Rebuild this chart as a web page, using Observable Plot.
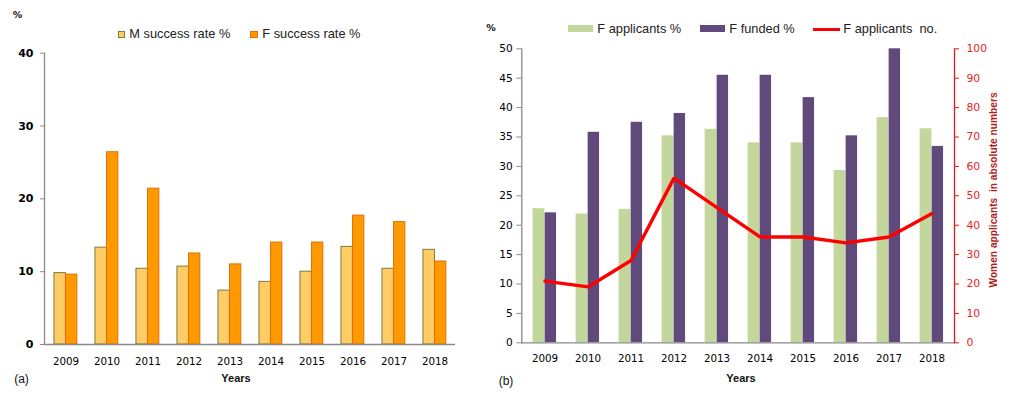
<!DOCTYPE html>
<html><head><meta charset="utf-8">
<script src="https://cdn.jsdelivr.net/npm/d3@7"></script>
<script src="https://cdn.jsdelivr.net/npm/@observablehq/plot@0.6"></script>
<style>
body{margin:0;background:#fff;}
#wrap{position:relative;width:1013px;height:398px;overflow:hidden;background:#fff;}
.abs{position:absolute;white-space:pre;line-height:1;}
.sw{position:absolute;box-sizing:border-box;}
</style></head><body><div id="wrap"></div>
<script>
// ---------- data ----------
const years = ["2009","2010","2011","2012","2013","2014","2015","2016","2017","2018"];
// panel (a)
const mSuccessRate = [9.8, 13.3, 10.4, 10.7, 7.4, 8.6, 10.0, 13.4, 10.4, 13.0];
const fSuccessRate = [9.6, 26.4, 21.4, 12.5, 11.0, 14.0, 14.0, 17.7, 16.8, 11.4];
// panel (b)
const fApplicantsPct = [22.8, 21.9, 22.7, 35.2, 36.3, 34.0, 34.0, 29.3, 38.3, 36.4];
const fFundedPct = [22.1, 35.8, 37.5, 39.0, 45.5, 45.5, 41.7, 35.2, 50.0, 33.4];
const fApplicantsNo = [21, 19, 28, 56, 46, 36, 36, 34, 36, 44];
// ticks
const ticksA = [0, 10, 20, 30, 40];
const ticksB = [0, 5, 10, 15, 20, 25, 30, 35, 40, 45, 50];
const ticksB2 = [0, 10, 20, 30, 40, 50, 60, 70, 80, 90, 100];

const tableA = years.map((year, i) => ({year, m: mSuccessRate[i], f: fSuccessRate[i]}));
const tableB = years.map((year, i) => ({year, app: fApplicantsPct[i], fund: fFundedPct[i], no: fApplicantsNo[i]}));

const wrap = document.getElementById("wrap");
const TICKFONT = "'DejaVu Sans', Verdana, sans-serif";
const LEGFONT = "'Liberation Sans', Arial, sans-serif";

// ---------- panel (a) ----------
const bandA = (455 - 44) / years.length;
const plotA = Plot.plot({
  width: 490, height: 398,
  marginLeft: 44, marginRight: 35, marginTop: 52.7, marginBottom: 54,
  style: {fontFamily: TICKFONT, fontSize: "10.3px", color: "#000", background: "transparent", overflow: "visible"},
  x: {type: "band", domain: years, padding: 0, axis: null},
  y: {domain: [0, 40], axis: null},
  marks: [
    Plot.barY(tableA, {x: "year", y: "m", fill: "#ffcc66", stroke: "#7a7a42", strokeWidth: 1,
      insetLeft: bandA / 2 - 11.6, insetRight: bandA / 2}),
    Plot.barY(tableA, {x: "year", y: "f", fill: "#ff9900", stroke: "#e0700a", strokeWidth: 1,
      insetLeft: bandA / 2, insetRight: bandA / 2 - 11.4}),
    Plot.ruleY([0], {stroke: "#8a8a8a", strokeWidth: 1.3}),
    Plot.frame({anchor: "left", stroke: "#8a8a8a", strokeWidth: 1.3}),
    Plot.axisY({ticks: ticksA, tickSize: 4, tickPadding: 7, stroke: "#8a8a8a", fill: "#000",
      fontWeight: "bold", fontSize: "11px", label: null}),
    Plot.axisX({tickSize: 0, tickPadding: 13, fill: "#000", label: null})
  ]
});
const divA = document.createElement("div");
divA.style.cssText = "position:absolute;left:0;top:0;";
divA.appendChild(plotA);
wrap.appendChild(divA);

// ---------- panel (b) ----------
const y2 = d => d / 2; // right axis (0-100) mapped onto the left domain (0-50)
const bandB = (954 - 521.3) / years.length;
const plotB = Plot.plot({
  width: 523, height: 398,
  marginLeft: 31.3, marginRight: 59, marginTop: 48.3, marginBottom: 55.7,
  style: {fontFamily: TICKFONT, fontSize: "10.3px", color: "#000", background: "transparent", overflow: "visible"},
  x: {type: "band", domain: years, padding: 0, axis: null},
  y: {domain: [0, 50], axis: null},
  marks: [
    Plot.barY(tableB, {x: "year", y: "app", fill: "#c3d69b",
      insetLeft: bandB / 2 - 12, insetRight: bandB / 2}),
    Plot.barY(tableB, {x: "year", y: "fund", fill: "#604a7b",
      insetLeft: bandB / 2, insetRight: bandB / 2 - 11.7}),
    Plot.ruleY([0], {stroke: "#8a8a8a", strokeWidth: 1.3}),
    Plot.frame({anchor: "left", stroke: "#8a8a8a", strokeWidth: 1.3}),
    Plot.frame({anchor: "right", stroke: "#e01818", strokeWidth: 1.3}),
    Plot.lineY(tableB, {x: "year", y: d => y2(d.no), stroke: "#ff0000", strokeWidth: 3.4, strokeLinejoin: "miter"}),
    Plot.axisY({ticks: ticksB, tickSize: 5, tickPadding: 4, stroke: "#8a8a8a", fill: "#000",
      fontSize: "10.6px", label: null}),
    Plot.axisY(ticksB2, {y: y2, anchor: "right", tickFormat: d => String(d), tickSize: 4, tickPadding: 8,
      stroke: "#e01818", fill: "#e8251f", fontSize: "10.8px", label: null}),
    Plot.axisX({tickSize: 0, tickPadding: 12, fill: "#000", label: null})
  ]
});
const divB = document.createElement("div");
divB.style.cssText = "position:absolute;left:490px;top:0;";
divB.appendChild(plotB);
wrap.appendChild(divB);

// ---------- texts & legends ----------
function txt(s, x, y, css, anchor) {
  const d = document.createElement("div");
  d.className = "abs";
  d.textContent = s;
  d.style.cssText += css;
  d.style.left = x + "px";
  d.style.top = y + "px";
  d.style.transform = anchor === "left" ? "translate(0,-50%)" : "translate(-50%,-50%)";
  wrap.appendChild(d);
  return d;
}
function sw(x, y, w, h, css) {
  const d = document.createElement("div");
  d.className = "sw";
  d.style.cssText += `left:${x}px;top:${y}px;width:${w}px;height:${h}px;` + css;
  wrap.appendChild(d);
}
const legCss = `font-family:${LEGFONT};font-size:12.8px;color:#222;`;
const boldCss = `font-family:${LEGFONT};font-size:11px;font-weight:bold;color:#111;`;
const pctCss = `font-family:${TICKFONT};font-size:9.5px;font-weight:bold;color:#111;`;

// panel (a)
txt("%", 17.5, 15, pctCss);
sw(117.5, 30.5, 7.6, 7.6, "background:#ffcc66;border:1px solid #7a7a42;");
txt("M success rate %", 129.3, 34, legCss, "left");
sw(250, 30.5, 7.6, 7.6, "background:#ff9900;border:1px solid #e0700a;");
txt("F success rate %", 262.3, 34, legCss, "left");
txt("Years", 236, 378, boldCss);
txt("(a)", 21.5, 379, `font-family:${LEGFONT};font-size:12px;color:#111;`);

// panel (b)
txt("%", 491, 28, pctCss);
sw(567.7, 25.3, 25.6, 7, "background:#c3d69b;");
txt("F applicants %", 597.3, 29, legCss, "left");
sw(700, 25.3, 25, 7, "background:#604a7b;");
txt("F funded %", 729.3, 29, legCss, "left");
sw(813.3, 27.6, 26.7, 3, "background:#ff0000;");
txt("F applicants  no.", 843.3, 29, legCss, "left");
txt("Years", 741, 378, boldCss);
txt("(b)", 506, 381, `font-family:${LEGFONT};font-size:12px;color:#111;`);
const t = txt("Women applicants  in absolute numbers", 994, 190,
  `font-family:${LEGFONT};font-size:10.2px;font-weight:bold;color:#b01e1c;`);
t.style.transform = "translate(-50%,-50%) rotate(-90deg)";
</script>
</body></html>
